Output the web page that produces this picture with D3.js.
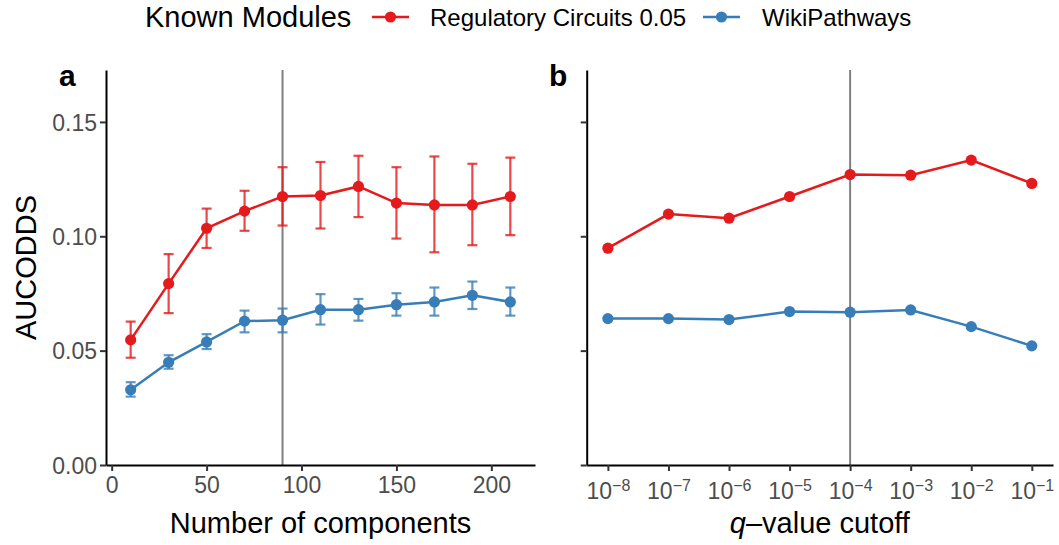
<!DOCTYPE html>
<html>
 <head>
  <title>AUCODDS</title>
  <style>
  body {
   margin: 0;
   background: white;
  }
  svg text {
   font-family: "Liberation Sans", Arial, sans-serif;
  }
  </style>
 </head>
 <body>
  <script src="https://cdnjs.cloudflare.com/ajax/libs/d3/7.8.5/d3.min.js"></script>
  <script>
   // panel a: number of components
   const components = [10, 30, 50, 70, 90, 110, 130, 150, 170, 190, 210];
   const regMean = [0.0547, 0.0793, 0.1035, 0.1110, 0.1174, 0.1178, 0.1218, 0.1145, 0.1137, 0.1137, 0.1174];
   const regLow  = [0.0469, 0.0664, 0.0949, 0.1024, 0.1047, 0.1034, 0.1084, 0.0990, 0.0930, 0.0961, 0.1005];
   const regHigh = [0.0627, 0.0922, 0.1121, 0.1199, 0.1302, 0.1325, 0.1352, 0.1302, 0.1349, 0.1317, 0.1344];
   const wikiMean = [0.0329, 0.0449, 0.0538, 0.0629, 0.0633, 0.0679, 0.0679, 0.0701, 0.0713, 0.0742, 0.0713];
   const wikiLow  = [0.0299, 0.0421, 0.0507, 0.0580, 0.0580, 0.0614, 0.0631, 0.0653, 0.0653, 0.0682, 0.0653];
   const wikiHigh = [0.0362, 0.0480, 0.0572, 0.0675, 0.0684, 0.0747, 0.0726, 0.0751, 0.0776, 0.0802, 0.0776];
   const chosenComponents = 90;

   // panel b: q-value cutoff (log10)
   const qExponents = [-8, -7, -6, -5, -4, -3, -2, -1];
   const regQ  = [0.0948, 0.1097, 0.1079, 0.1174, 0.1270, 0.1267, 0.1333, 0.1231];
   const wikiQ = [0.0640, 0.0640, 0.0636, 0.0671, 0.0668, 0.0678, 0.0605, 0.0521];
   const chosenQ = -4;

   const yTicks = [0, 0.05, 0.10, 0.15];
   const xTicksA = [0, 50, 100, 150, 200];
   const seriesNames = ["Regulatory Circuits 0.05", "WikiPathways"];
   const seriesColors = ["#E41A1C", "#377EB8"];

   const w = 1059;
   const h = 545;
   const panelTop = 70, panelBottom = 465;

   const svg = d3.select("body")
                 .append("svg")
                 .attr("width", w)
                 .attr("height", h);

   const yScale = d3.scaleLinear()
                    .domain([0, 0.1727])
                    .range([panelBottom, panelTop]);
   const xA = d3.scaleLinear()
                .domain([-3, 223])
                .range([106, 535]);
   const xB = d3.scaleLinear()
                .domain([-8.35, -0.65])
                .range([586.7, 1053]);

   function styleAxis(g) {
    g.select(".domain").attr("stroke", "black").attr("stroke-width", 2);
    g.selectAll(".tick line").attr("stroke", "#333333").attr("stroke-width", 2);
    g.selectAll(".tick text").attr("fill", "#4D4D4D").attr("font-size", "23px");
   }

   // vertical reference lines
   svg.append("line")
      .attr("x1", xA(chosenComponents)).attr("x2", xA(chosenComponents))
      .attr("y1", panelTop).attr("y2", panelBottom)
      .attr("stroke", "#808080").attr("stroke-width", 2);
   svg.append("line")
      .attr("x1", xB(chosenQ)).attr("x2", xB(chosenQ))
      .attr("y1", panelTop).attr("y2", panelBottom)
      .attr("stroke", "#808080").attr("stroke-width", 2);

   // panel a
   const seriesA = [
    components.map((c, i) => ({x: c, y: regMean[i], lo: regLow[i], hi: regHigh[i]})),
    components.map((c, i) => ({x: c, y: wikiMean[i], lo: wikiLow[i], hi: wikiHigh[i]}))
   ];
   const line = d3.line();
   seriesA.forEach((s, k) => {
    const col = seriesColors[k];
    const g = svg.append("g");
    const eb = g.selectAll(".eb").data(s).enter().append("g")
                .attr("stroke", col).attr("stroke-opacity", 0.8).attr("stroke-width", 2.2);
    eb.append("line")
      .attr("x1", d => xA(d.x)).attr("x2", d => xA(d.x))
      .attr("y1", d => yScale(d.lo)).attr("y2", d => yScale(d.hi));
    eb.append("line")
      .attr("x1", d => xA(d.x) - 5).attr("x2", d => xA(d.x) + 5)
      .attr("y1", d => yScale(d.lo)).attr("y2", d => yScale(d.lo));
    eb.append("line")
      .attr("x1", d => xA(d.x) - 5).attr("x2", d => xA(d.x) + 5)
      .attr("y1", d => yScale(d.hi)).attr("y2", d => yScale(d.hi));
    g.append("path")
     .attr("d", line(s.map(d => [xA(d.x), yScale(d.y)])))
     .attr("fill", "none").attr("stroke", col).attr("stroke-width", 2.5);
    g.selectAll("circle").data(s).enter().append("circle")
     .attr("cx", d => xA(d.x)).attr("cy", d => yScale(d.y))
     .attr("r", 5.6).attr("fill", col);
   });

   // panel b
   const seriesB = [
    qExponents.map((q, i) => ({x: q, y: regQ[i]})),
    qExponents.map((q, i) => ({x: q, y: wikiQ[i]}))
   ];
   seriesB.forEach((s, k) => {
    const col = seriesColors[k];
    const g = svg.append("g");
    g.append("path")
     .attr("d", line(s.map(d => [xB(d.x), yScale(d.y)])))
     .attr("fill", "none").attr("stroke", col).attr("stroke-width", 2.5);
    g.selectAll("circle").data(s).enter().append("circle")
     .attr("cx", d => xB(d.x)).attr("cy", d => yScale(d.y))
     .attr("r", 5.6).attr("fill", col);
   });

   // axes panel a
   svg.append("g")
      .attr("transform", "translate(0," + panelBottom + ")")
      .call(d3.axisBottom(xA).tickValues(xTicksA).tickSize(6).tickSizeOuter(0).tickPadding(6))
      .call(styleAxis);
   svg.append("g")
      .attr("transform", "translate(" + xA.range()[0] + ",0)")
      .call(d3.axisLeft(yScale).tickValues(yTicks).tickFormat(d3.format(".2f")).tickSize(6).tickSizeOuter(0).tickPadding(3))
      .call(styleAxis)
      .selectAll(".tick text").attr("dy", "0.36em");

   // axes panel b
   const axB = svg.append("g")
      .attr("transform", "translate(0," + panelBottom + ")")
      .call(d3.axisBottom(xB).tickValues(qExponents).tickSize(6).tickSizeOuter(0).tickPadding(12).tickFormat(""))
      .call(styleAxis);
   axB.selectAll(".tick text").each(function(d) {
    const t = d3.select(this);
    t.text("10");
    t.append("tspan")
     .attr("dy", "-0.55em")
     .attr("font-size", "16px")
     .text("\u2212" + Math.abs(d));
   });
   svg.append("g")
      .attr("transform", "translate(" + xB.range()[0] + ",0)")
      .call(d3.axisLeft(yScale).tickValues(yTicks).tickSize(6).tickSizeOuter(0).tickFormat(""))
      .call(styleAxis);

   // axis titles
   svg.append("text")
      .attr("x", (xA.range()[0] + xA.range()[1]) / 2).attr("y", 533)
      .attr("text-anchor", "middle").attr("font-size", "29px")
      .text("Number of components");
   const qt = svg.append("text")
      .attr("x", (xB.range()[0] + xB.range()[1]) / 2).attr("y", 533)
      .attr("text-anchor", "middle").attr("font-size", "29px");
   qt.append("tspan").attr("font-style", "italic").text("q");
   qt.append("tspan").text("\u2013value cutoff");
   svg.append("text")
      .attr("transform", "translate(36," + (panelTop + panelBottom) / 2 + ") rotate(-90)")
      .attr("text-anchor", "middle").attr("font-size", "29px")
      .text("AUCODDS");

   // panel tags
   svg.append("text").attr("x", 59).attr("y", 86)
      .attr("font-size", "30px").attr("font-weight", "bold").text("a");
   svg.append("text").attr("x", 549).attr("y", 86)
      .attr("font-size", "30px").attr("font-weight", "bold").text("b");

   // legend
   svg.append("text").attr("x", 145).attr("y", 27)
      .attr("font-size", "29px").text("Known Modules");
   const keyX = [372, 703];
   const labelX = [430, 762];
   seriesNames.forEach((name, k) => {
    const g = svg.append("g");
    g.append("line")
     .attr("x1", keyX[k]).attr("x2", keyX[k] + 37)
     .attr("y1", 17).attr("y2", 17)
     .attr("stroke", seriesColors[k]).attr("stroke-width", 2.5);
    g.append("circle")
     .attr("cx", keyX[k] + 18.5).attr("cy", 17).attr("r", 5.6)
     .attr("fill", seriesColors[k]);
    g.append("text").attr("x", labelX[k]).attr("y", 26)
     .attr("font-size", "24px").text(name);
   });
  </script>
 </body>
</html>
